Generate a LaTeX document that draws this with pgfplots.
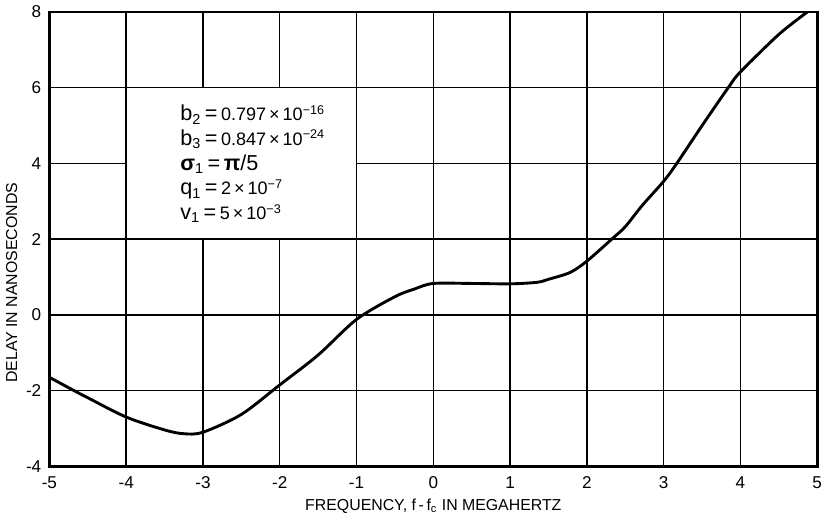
\documentclass[border=0pt]{standalone}
\usepackage{fontspec}
\setmainfont{Liberation Sans}
\usepackage{pgfplots}
\pgfplotsset{compat=1.18}

% smaller type for the numbers in the parameter box
\newcommand{\nm}[1]{{\fontsize{10}{12}\selectfont #1}}

\begin{document}
\begin{tikzpicture}
\begin{axis}[
    scale only axis,
    width=426pt, height=252pt,
    xmin=-5, xmax=5, ymin=-4, ymax=8,
    xtick={-5,-4,...,5},
    ytick={-4,-2,...,8},
    grid=major,
    grid style={line width=0.8pt, black},
    axis line style={line width=1.5pt},
    major tick length=0pt,
    /pgf/number format/assume math mode=true,
    tick label style={font=\fontsize{9.5}{11}\selectfont},
    xticklabel style={yshift=-2pt},
    yticklabel style={xshift=-1pt},
    xlabel={FREQUENCY, f\,-\,f\textsubscript{c} IN MEGAHERTZ},
    ylabel={DELAY IN NANOSECONDS},
    label style={font=\fontsize{8.8}{10}\selectfont},
    xlabel style={yshift=1pt},
    ylabel style={at={(ticklabel cs:0.404)}, yshift=-2pt},
]
% blank panel for the parameter list
\fill[white] (axis cs:-4,2) rectangle (axis cs:-1,6);
\draw[line width=0.8pt] (axis cs:-4,2) rectangle (axis cs:-1,6);
\node[anchor=north west, align=left, inner sep=0pt,
      font=\fontsize{12}{13.7}\selectfont] at (axis cs:-3.3,5.55) {%
  b\textsubscript{2}\,=\,\nm{0.797\,×\,10\textsuperscript{−16}}\\
  b\textsubscript{3}\,=\,\nm{0.847\,×\,10\textsuperscript{−24}}\\
  \textbf{σ}\textsubscript{1}\,=\,\textbf{π}/5\\
  q\textsubscript{1}\,=\,\nm{2\,×\,10\textsuperscript{−7}}\\
  v\textsubscript{1}\,=\,\nm{5\,×\,10\textsuperscript{−3}}};

\addplot[black, line width=1.6pt, smooth, tension=0.5] coordinates {
  (-5,-1.65) (-4.68,-2.0) (-4.5,-2.19) (-4,-2.70) (-3.5,-3.04)
  (-3.25,-3.14) (-3,-3.10) (-2.5,-2.63) (-2,-1.85) (-1.5,-1.06)
  (-1,-0.12) (-0.5,0.48) (-0.25,0.68) (0,0.83) (0.5,0.83)
  (1,0.82) (1.35,0.86) (1.5,0.94) (1.78,1.12) (2,1.42)
  (2.34,2.03) (2.5,2.33) (2.72,2.89) (3,3.53) (3.17,4.0)
  (3.5,5.0) (3.85,6.03) (4,6.42) (4.5,7.41) (4.87,8.0)
};
\end{axis}
\end{tikzpicture}
\end{document}
